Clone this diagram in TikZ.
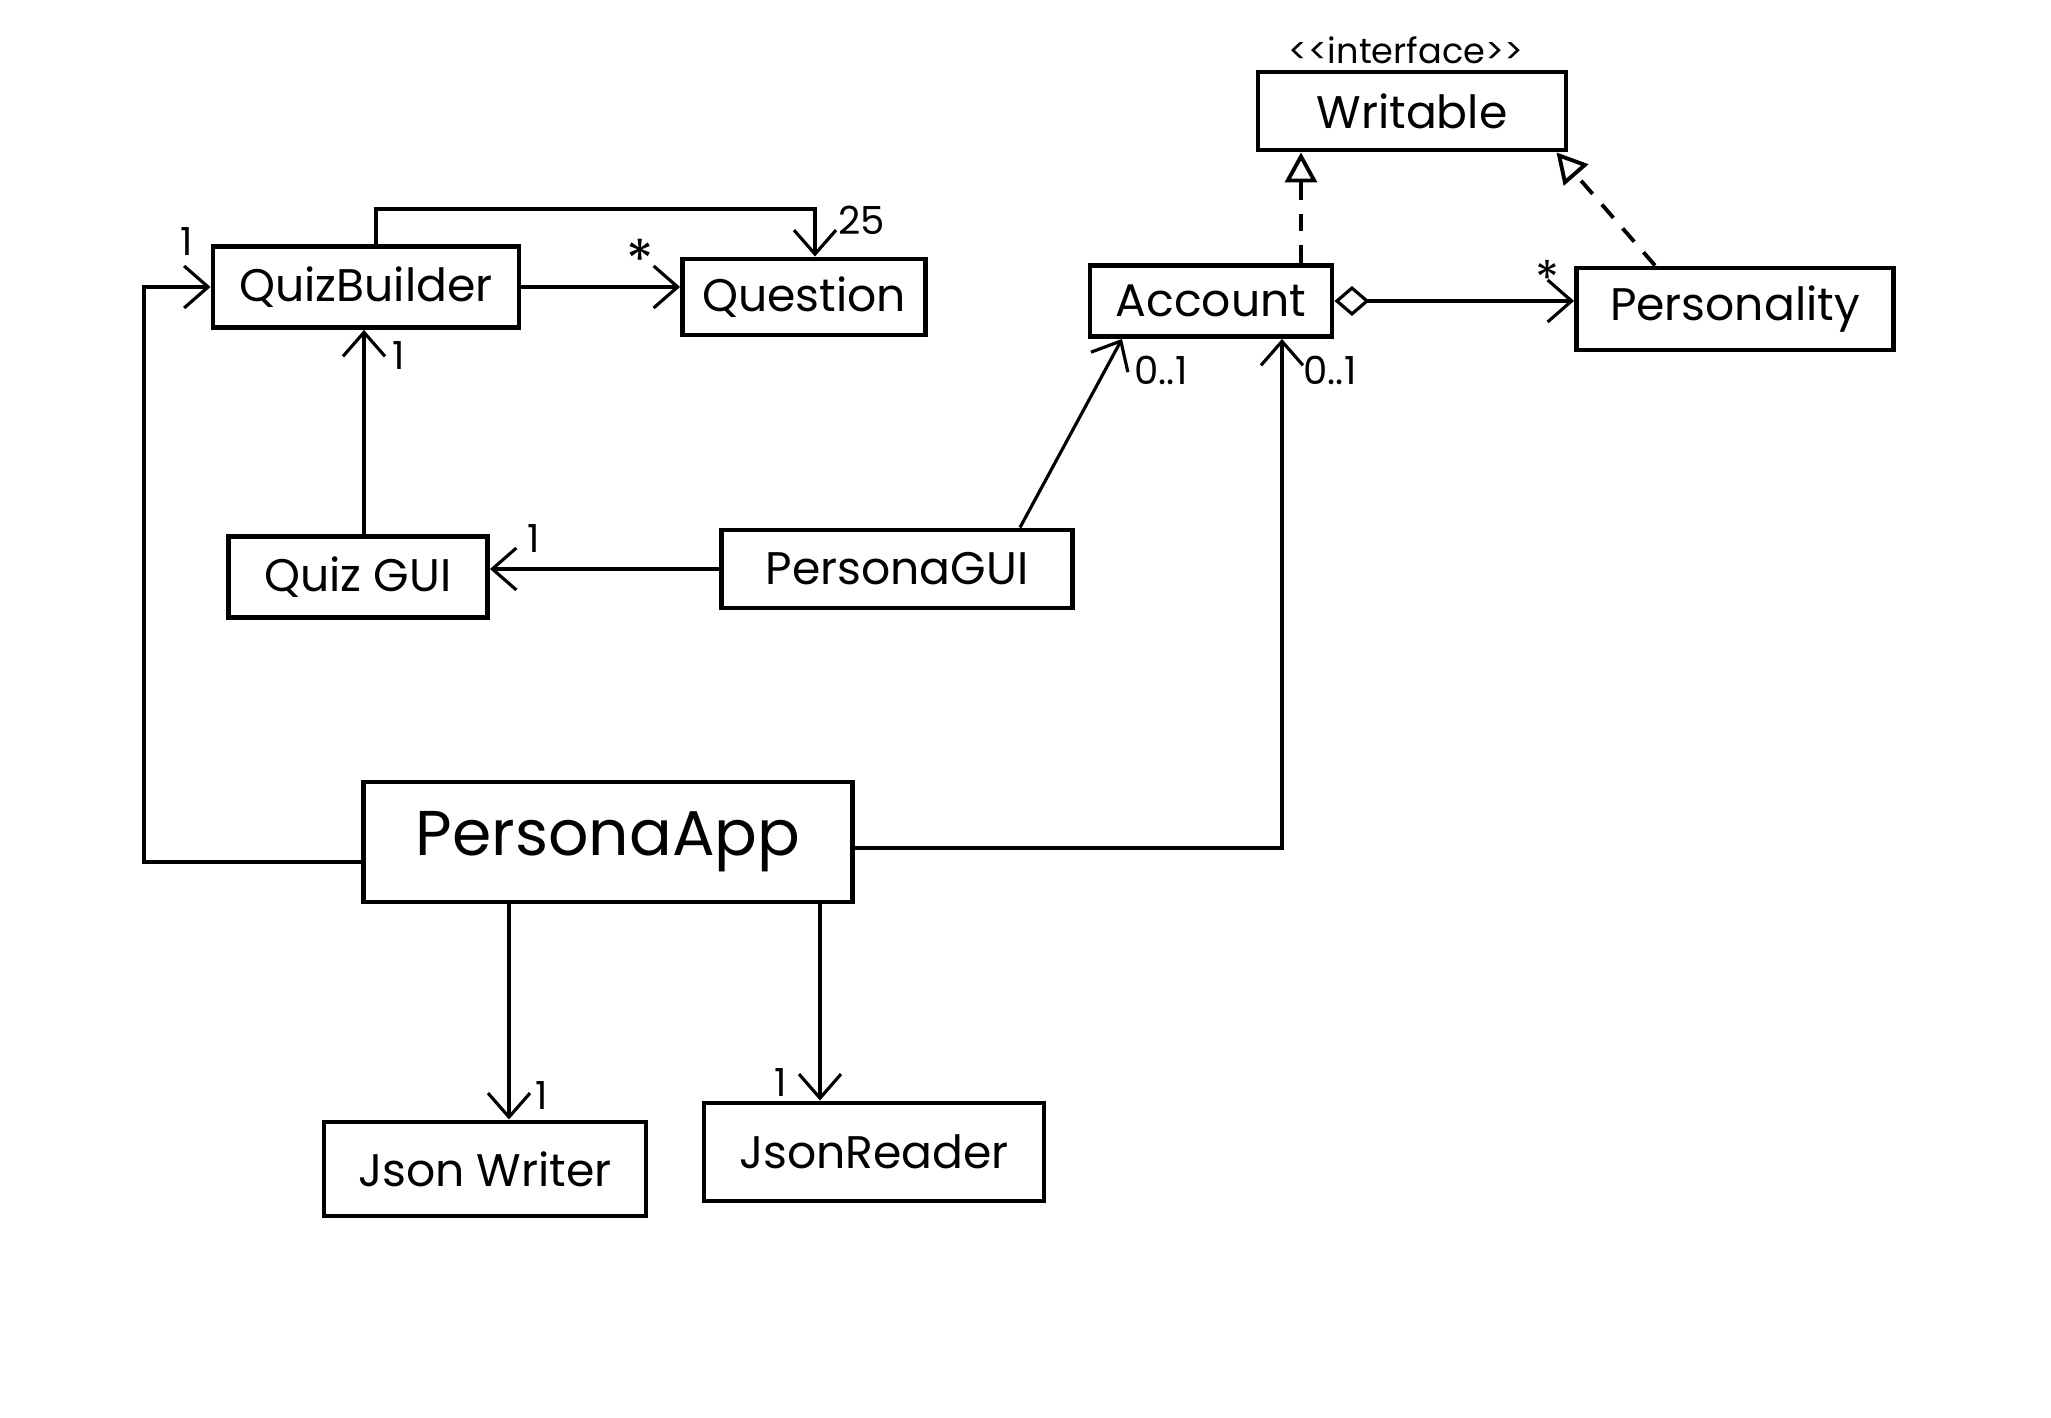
\documentclass[tikz,border=0pt]{standalone}
\usepackage{fontspec}
\setmainfont{Poppins}
\usetikzlibrary{arrows.meta,positioning}

\begin{document}
\begin{tikzpicture}[
    font=\fontsize{13}{15}\selectfont,
    >={Straight Barb[length=2.4mm,width=4.2mm]},
    line width=0.9pt,
    cls/.style={draw, line width=1.4pt, inner sep=0pt, align=center},
    mult/.style={inner sep=1pt, font=\fontsize{11}{13}\selectfont},
    realize/.style={dashed, dash pattern=on 5pt off 4pt, line width=1.1pt,
      -{Triangle[open,length=3mm,width=3.2mm]}}
  ]
  \useasboundingbox (0,0) rectangle (20.51,14.18);

  % classes
  \node[cls, minimum width=3.06cm, minimum height=0.81cm] (qb)   at (3.66,11.31) {QuizBuilder};
  \node[cls, minimum width=2.43cm, minimum height=0.76cm] (qst)  at (8.04,11.21) {Question};
  \node[cls, minimum width=3.08cm, minimum height=0.78cm] (wr)   at (14.12,13.07) {Writable};
  \node[font=\fontsize{10}{12}\selectfont] (iface) at (14.06,13.68) {<{}<interface>{}>};
  \node[cls, minimum width=2.42cm, minimum height=0.71cm] (acc)  at (12.11,11.17) {Account};
  \node[cls, minimum width=3.17cm, minimum height=0.82cm] (pers) at (17.35,11.09) {Personality};
  \node[cls, minimum width=2.59cm, minimum height=0.81cm] (qgui) at (3.58,8.41) {Quiz GUI};
  \node[cls, minimum width=3.51cm, minimum height=0.78cm] (pgui) at (8.97,8.49) {PersonaGUI};
  \node[cls, minimum width=4.89cm, minimum height=1.20cm,
        font=\fontsize{18}{20}\selectfont] (app) at (6.08,5.76) {PersonaApp};
  \node[cls, minimum width=3.22cm, minimum height=0.94cm] (jw)   at (4.85,2.49) {Json Writer};
  \node[cls, minimum width=3.40cm, minimum height=0.98cm] (jr)   at (8.74,2.66) {JsonReader};

  % associations
  \draw[->] ([xshift=1mm]qb.north) -- ++(0,0.35) -| ([xshift=1.1mm]qst.north);
  \draw[->] (qb.east) -- (qb.east -| qst.west);
  \coordinate (loopx) at (1.44,0);
  \draw[->] ([yshift=-2mm]app.west) -| (loopx |- qb.west) -- (qb.west);
  \draw[->] ([xshift=0.6mm]qgui.north) -- ([xshift=0.6mm]qgui.north |- qb.south);
  \draw[->] (pgui.west) -- (pgui.west -| qgui.east);
  \draw[->] ([xshift=12.3mm]pgui.north) -- ([xshift=-8.9mm]acc.south);
  \draw[->] ([yshift=-0.6mm]app.east) -| ([xshift=7.1mm]acc.south);
  \draw[{Diamond[open,length=3.5mm,width=3mm]}->] (acc.east) -- (acc.east -| pers.west);
  \draw[->] ([xshift=-9.9mm]app.south) -- ([xshift=-9.9mm]app.south |- jw.north);
  \draw[->] ([xshift=21.2mm]app.south) -- ([xshift=21.2mm]app.south |- jr.north);

  % realizations
  \draw[realize] ([xshift=9mm]acc.north) -- ([xshift=9mm]acc.north |- wr.south);
  \draw[realize] ([xshift=-8mm]pers.north) -- ([xshift=-1.2mm]wr.south east);

  % multiplicities
  \node[mult] (m25)  at (8.62,11.98) {25};
  \node[mult, font=\fontsize{16}{18}\selectfont] (mq) at (6.40,11.58) {*};
  \node[mult] (mqb)  at (1.87,11.76) {1};
  \node[mult] (mqg)  at (3.99,10.62) {1};
  \node[mult] (mpg)  at (5.34,8.79) {1};
  \node[mult] (ma1)  at (11.61,10.48) {0..1};
  \node[mult] (ma2)  at (13.30,10.48) {0..1};
  \node[mult, font=\fontsize{14}{16}\selectfont] (mp) at (15.47,11.40) {*};
  \node[mult] (mjw)  at (5.42,3.22) {1};
  \node[mult] (mjr)  at (7.81,3.35) {1};
\end{tikzpicture}
\end{document}
